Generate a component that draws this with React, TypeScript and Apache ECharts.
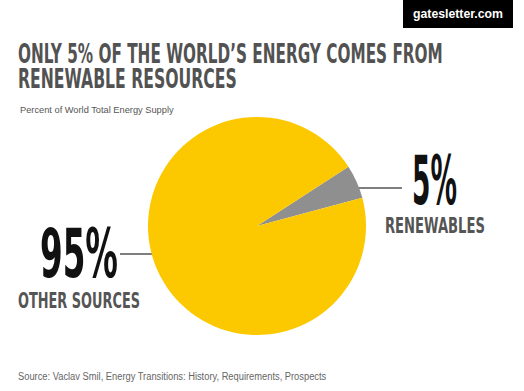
import React, { useEffect, useRef } from "react";
import * as echarts from "echarts";

const sliceNames = ["Renewables", "Other sources"];
const sliceValues = [5, 95];
const sliceLabels = ["RENEWABLES", "OTHER SOURCES"];
const titleLines = ["ONLY 5% OF THE WORLD\u2019S ENERGY COMES FROM", "RENEWABLE RESOURCES"];
const subtitleText = "Percent of World Total Energy Supply";
const sourceText = "Source: Vaclav Smil, Energy Transitions: History, Requirements, Prospects";
const brandText = "gatesletter.com";

const COND = "'DejaVu Sans Condensed', 'DejaVu Sans', sans-serif";
const HELV = "'Liberation Sans', Arial, sans-serif";

let ctx: CanvasRenderingContext2D | null = null;
function fit(text: string, font: string, width: number) {
  if (!ctx) ctx = document.createElement("canvas").getContext("2d");
  if (!ctx) return 1;
  ctx.font = font;
  const w = ctx.measureText(text).width;
  return w > 0 ? width / w : 1;
}

function txt(
  text: string,
  x: number,
  y: number,
  size: number,
  family: string,
  weight: string,
  fill: string,
  width: number,
  align: string = "left"
) {
  const font = `${weight} ${size}px ${family}`;
  return {
    type: "text",
    x,
    y,
    scaleX: fit(text, font, width),
    silent: true,
    style: {
      text,
      font,
      fill,
      align,
      verticalAlign: "middle",
    },
  };
}

export default function App() {
  const ref = useRef<HTMLDivElement>(null);
  useEffect(() => {
    if (!ref.current) return;
    const chart = echarts.init(ref.current, null, { renderer: "svg" });
    const total = sliceValues.reduce((a, b) => a + b, 0);
    const pct = (v: number) => `${Math.round((v / total) * 100)}%`;
    chart.setOption({
      animation: false,
      backgroundColor: "#ffffff",
      series: [
        {
          type: "pie",
          center: [257, 226],
          radius: 109,
          startAngle: 33,
          clockwise: true,
          label: { show: false },
          labelLine: { show: false },
          silent: true,
          data: sliceNames.map((n, i) => ({
            name: n,
            value: sliceValues[i],
            itemStyle: { color: i === 0 ? "#8f8f8f" : "#fcc800" },
          })),
        },
      ],
      graphic: [
        { type: "rect", shape: { x: 403, y: 0, width: 110, height: 28 }, style: { fill: "#000" } },
        txt(brandText, 458, 14, 13, HELV, "bold", "#ffffff", 90, "center"),
        txt(titleLines[0], 18, 53, 27, COND, "bold", "#525252", 425),
        txt(titleLines[1], 18, 78.5, 27, COND, "bold", "#525252", 219),
        txt(subtitleText, 20, 110, 9.5, HELV, "normal", "#555555", 154),
        txt(pct(sliceValues[0]), 412, 180, 68, COND, "bold", "#111111", 45),
        txt(sliceLabels[0], 385, 225.5, 21, COND, "bold", "#555555", 100),
        txt(pct(sliceValues[1]), 40, 253, 68, COND, "bold", "#111111", 78),
        txt(sliceLabels[1], 18, 300, 22, COND, "bold", "#555555", 122),
        {
          type: "line",
          shape: { x1: 342, y1: 188, x2: 402, y2: 188 },
          style: { stroke: "#555555", lineWidth: 1.5 },
        },
        {
          type: "line",
          shape: { x1: 120, y1: 254, x2: 203, y2: 254 },
          style: { stroke: "#555555", lineWidth: 1.5 },
        },
        txt(sourceText, 18, 376, 10, HELV, "normal", "#666666", 309),
      ],
    });
    return () => chart.dispose();
  }, []);
  return (
    <div
      ref={ref}
      style={{ position: "absolute", left: 0, top: 0, width: 524, height: 391, background: "#fff" }}
    />
  );
}
